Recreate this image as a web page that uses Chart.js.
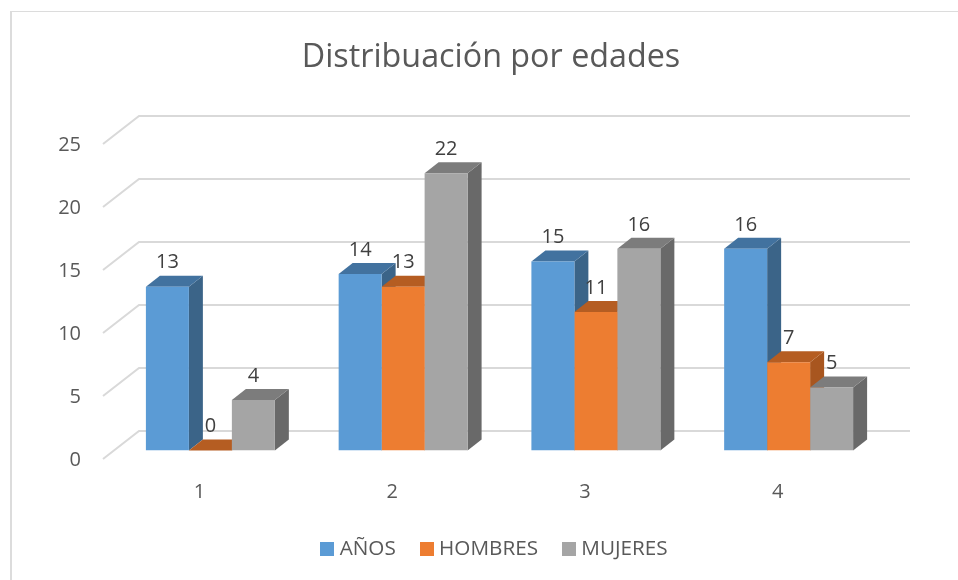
<!DOCTYPE html>
<html>
<head>
<meta charset="utf-8">
<style>
html,body{margin:0;padding:0;background:#fff;overflow:hidden}
#wrap{position:relative;width:958px;height:580px}
#frame{position:absolute;left:10px;top:11px;right:0;bottom:0;border-left:2px solid #dcdcdc;border-top:1px solid #dcdcdc}
canvas{position:absolute;left:0;top:0}
</style>
<script src="https://cdn.jsdelivr.net/npm/chart.js@4/dist/chart.umd.min.js"></script>
</head>
<body>
<div id="wrap"><div id="frame"></div><canvas id="c" width="958" height="580"></canvas></div>
<script>
const titleText = "Distribuación por edades";
const categories = ["1", "2", "3", "4"];
const anos = [13, 14, 15, 16];
const hombres = [0, 13, 11, 7];
const mujeres = [4, 22, 16, 5];
const yTicks = [0, 5, 10, 15, 20, 25];
const FONT = "'Open Sans', sans-serif";

const colors = ["#5B9BD5", "#ED7D31", "#A5A5A5"];
const sideColors = ["#3B6488", "#A8561F", "#696969"];
const topColors = ["#42729F", "#B55D22", "#7C7C7C"];

const DX = 14, DY = -11;          // depth of a bar
const WALL_DX = 25, WALL_DY = -19.5; // back wall from the bar plane
const FLOOR_DX = -11, FLOOR_DY = 8.5; // front edge from the bar plane

function poly(ctx, pts, fill) {
  ctx.beginPath();
  pts.forEach((p, i) => i ? ctx.lineTo(p[0], p[1]) : ctx.moveTo(p[0], p[1]));
  ctx.closePath();
  ctx.fillStyle = fill;
  ctx.fill();
}

const box3d = {
  id: "box3d",
  afterLayout(chart) {
    // title and legend are centred off the plot in the reference
    chart.titleBlock.left += 36.5;
    chart.titleBlock.right += 36.5;
    chart.legend.left += 42;
    chart.legend.right += 42;
  },
  beforeDatasetsDraw(chart) {
    const { ctx, chartArea: a, scales: { y } } = chart;
    ctx.save();
    ctx.strokeStyle = "#D9D9D9";
    ctx.lineWidth = 2;
    yTicks.forEach(v => {
      const py = y.getPixelForValue(v);
      ctx.beginPath();
      ctx.moveTo(a.left + FLOOR_DX, py + FLOOR_DY);
      ctx.lineTo(a.left + WALL_DX, py + WALL_DY);
      ctx.lineTo(a.right + WALL_DX, py + WALL_DY);
      ctx.stroke();
    });
    chart.data.datasets.forEach((ds, i) => {
      chart.getDatasetMeta(i).data.forEach(bar => {
        const l = bar.x - bar.width / 2, r = bar.x + bar.width / 2, t = bar.y, b = bar.base;
        poly(ctx, [[r, t], [r + DX, t + DY], [r + DX, b + DY], [r, b]], sideColors[i]);
        poly(ctx, [[l, t], [r, t], [r + DX, t + DY], [l + DX, t + DY]], topColors[i]);
      });
    });
    ctx.restore();
  },
  afterDatasetsDraw(chart) {
    const { ctx } = chart;
    ctx.save();
    ctx.fillStyle = "#404040";
    ctx.font = "20px " + FONT;
    ctx.textAlign = "center";
    ctx.textBaseline = "middle";
    chart.data.datasets.forEach((ds, i) => {
      chart.getDatasetMeta(i).data.forEach((bar, k) => {
        ctx.fillText(String(ds.data[k]), bar.x, bar.y - 24);
      });
    });
    ctx.restore();
  }
};

function swatch(color) {
  const s = document.createElement("canvas");
  s.width = 14; s.height = 14;
  const g = s.getContext("2d");
  g.fillStyle = color;
  g.fillRect(0, 0, 14, 14);
  return s;
}
const swatches = colors.map(swatch);

new Chart(document.getElementById("c"), {
  type: "bar",
  data: {
    labels: categories,
    datasets: [
      { label: "AÑOS", data: anos, backgroundColor: colors[0] },
      { label: "HOMBRES", data: hombres, backgroundColor: colors[1] },
      { label: "MUJERES", data: mujeres, backgroundColor: colors[2] }
    ]
  },
  options: {
    responsive: false,
    animation: false,
    devicePixelRatio: 1,
    layout: { padding: { left: 24, right: 73, top: 0, bottom: 10.5 } },
    datasets: { bar: { categoryPercentage: 0.669, barPercentage: 1 } },
    scales: {
      x: {
        grid: { display: false, drawTicks: false },
        border: { display: false },
        afterFit(s) { s.height = 59.3; },
        ticks: { color: "#595959", font: { family: FONT, size: 20 }, padding: 29.5, labelOffset: -11, maxRotation: 0 }
      },
      y: {
        min: 0, max: 25,
        grid: { display: false, drawTicks: false },
        border: { display: false },
        afterFit(s) { s.width = 90; },
        ticks: { color: "#595959", font: { family: FONT, size: 20 }, padding: 33, stepSize: 5, labelOffset: 10 }
      }
    },
    plugins: {
      tooltip: { enabled: false },
      title: {
        display: true, text: titleText, color: "#595959",
        font: { family: FONT, size: 32.3, weight: "normal" },
        padding: { top: 38, bottom: 58.7 }
      },
      legend: {
        display: true, position: "bottom",
        labels: {
          color: "#595959", font: { family: FONT, size: 20.7 },
          boxWidth: 4, boxHeight: 14, usePointStyle: true, padding: 29,
          generateLabels(chart) {
            return Chart.defaults.plugins.legend.labels.generateLabels(chart)
              .map((it, i) => Object.assign(it, { pointStyle: swatches[i] }));
          }
        }
      }
    }
  },
  plugins: [box3d]
});
</script>
</body>
</html>
